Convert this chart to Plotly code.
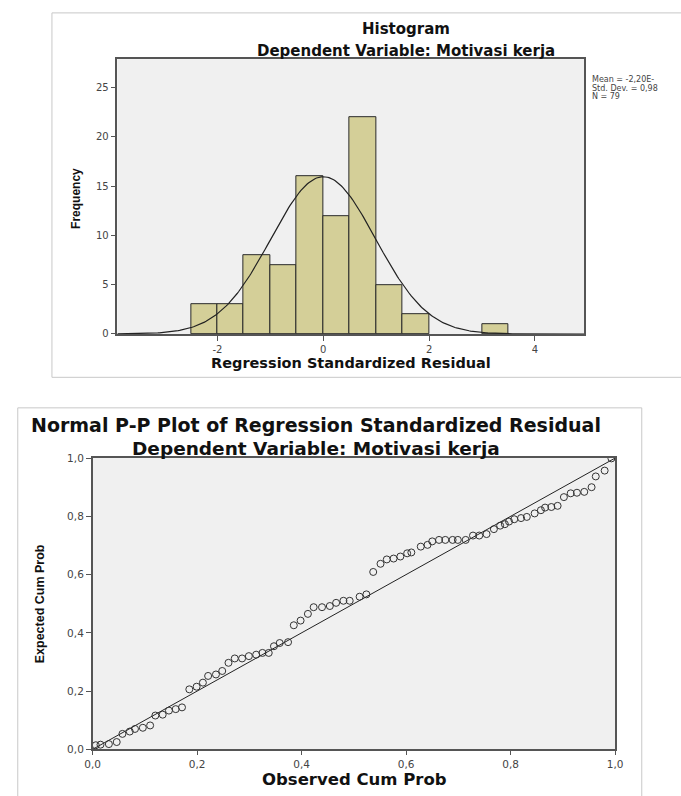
import math
import plotly.graph_objects as go

# ---------------- data ----------------
# Histogram of regression standardized residuals (bin width 0.5)
bin_starts = [-2.5, -2.0, -1.5, -1.0, -0.5, 0.0, 0.5, 1.0, 1.5, 3.0]
bin_counts = [3, 3, 8, 7, 16, 12, 22, 5, 2, 1]
bin_width = 0.5
res_mean = -2.20e-15
res_sd = 0.987
res_n = 79
stats_lines = ["Mean = -2,20E-", "Std. Dev. = 0,98", "N = 79"]
hist_xticks = [-2, 0, 2, 4]
hist_xtick_labels = ["-2", "0", "2", "4"]
hist_yticks = [0, 5, 10, 15, 20, 25]

# Normal P-P plot points (observed, expected cumulative probability)
obs_cum = [0.006, 0.015, 0.031, 0.046, 0.057, 0.071, 0.081, 0.096, 0.110,
           0.120, 0.134, 0.146, 0.159, 0.171, 0.185, 0.199, 0.211, 0.221,
           0.236, 0.248, 0.260, 0.272, 0.286, 0.299, 0.313, 0.325, 0.337,
           0.347, 0.358, 0.374, 0.385, 0.398, 0.412, 0.423, 0.439, 0.454,
           0.466, 0.480, 0.492, 0.511, 0.524, 0.537, 0.551, 0.563, 0.576,
           0.589, 0.602, 0.610, 0.628, 0.641, 0.650, 0.663, 0.675, 0.689,
           0.699, 0.714, 0.728, 0.740, 0.754, 0.768, 0.780, 0.789, 0.797,
           0.807, 0.820, 0.831, 0.846, 0.858, 0.866, 0.878, 0.890, 0.902,
           0.915, 0.927, 0.941, 0.955, 0.963, 0.980, 0.993]
exp_cum = [0.014, 0.016, 0.018, 0.025, 0.053, 0.061, 0.070, 0.074, 0.082,
           0.116, 0.119, 0.133, 0.138, 0.144, 0.206, 0.215, 0.229, 0.252,
           0.257, 0.269, 0.297, 0.312, 0.312, 0.320, 0.325, 0.331, 0.331,
           0.354, 0.365, 0.368, 0.426, 0.442, 0.465, 0.488, 0.488, 0.492,
           0.503, 0.510, 0.510, 0.524, 0.532, 0.609, 0.637, 0.652, 0.655,
           0.662, 0.673, 0.676, 0.696, 0.702, 0.714, 0.719, 0.719, 0.719,
           0.719, 0.719, 0.734, 0.734, 0.739, 0.756, 0.768, 0.773, 0.782,
           0.790, 0.794, 0.798, 0.810, 0.821, 0.830, 0.832, 0.836, 0.866,
           0.879, 0.881, 0.884, 0.900, 0.937, 0.957, 0.999]
pp_ticks = [0.0, 0.2, 0.4, 0.6, 0.8, 1.0]
ref_line = [0.0, 1.0]

# ---------------- layout constants ----------------
W, H = 681, 796
def px(x):
    return x / W
def py(y):
    return 1 - y / H

BAR_FILL = "#d4cf98"
PLOT_BG = "#f0f0f0"
FRAME = "#c8c8c8"
TICKFONT = dict(family="DejaVu Sans", size=10, color="#444")
PP_TICKFONT = dict(family="DejaVu Sans", size=10.5, color="#444")

fig = go.Figure()

# histogram bars
fig.add_trace(go.Bar(
    x=bin_starts, y=bin_counts, width=bin_width, offset=0,
    marker=dict(color=BAR_FILL, line=dict(color="#2a2a2a", width=1)),
    xaxis="x", yaxis="y", showlegend=False, hoverinfo="skip"))

# fitted normal curve from the residual statistics
x0, x1 = -3.89, 4.93
curve_x = [x0 + (x1 - x0) * i / 300 for i in range(301)]
curve_y = [res_n * bin_width / (res_sd * math.sqrt(2 * math.pi))
           * math.exp(-0.5 * ((v - res_mean) / res_sd) ** 2) for v in curve_x]
fig.add_trace(go.Scatter(
    x=curve_x, y=curve_y, mode="lines", line=dict(color="#222", width=1.2),
    xaxis="x", yaxis="y", showlegend=False, hoverinfo="skip"))

# P-P reference line and points
fig.add_trace(go.Scatter(
    x=ref_line, y=ref_line, mode="lines", line=dict(color="#222", width=1),
    xaxis="x2", yaxis="y2", showlegend=False, hoverinfo="skip"))
fig.add_trace(go.Scatter(
    x=obs_cum, y=exp_cum, mode="markers",
    marker=dict(symbol="circle-open", size=7, color="#333",
                line=dict(width=1, color="#333")),
    xaxis="x2", yaxis="y2", showlegend=False, hoverinfo="skip"))

def axis(**kw):
    d = dict(showgrid=False, zeroline=False, showline=True, mirror=True,
             linecolor="#555", linewidth=1.5, ticks="outside",
             tickcolor="#555", tickfont=TICKFONT, fixedrange=True)
    d.update(kw)
    return d

fig.update_layout(
    width=W, height=H,
    margin=dict(l=0, r=0, t=0, b=0),
    paper_bgcolor="white",
    plot_bgcolor=PLOT_BG,
    separators=",.",
    bargap=0,
    showlegend=False,
    xaxis=axis(domain=[px(112), px(590)], range=[x0, x1],
               tickvals=hist_xticks, ticktext=hist_xtick_labels, ticklen=5, anchor="y"),
    yaxis=axis(domain=[py(333), py(54)], range=[0, 27.9],
               tickvals=hist_yticks, ticklen=5, anchor="x"),
    xaxis2=axis(domain=[px(86.7), px(621.7)], range=[0, 1],
                tickvals=pp_ticks, tickformat=".1f", ticklen=4, anchor="y2",
                tickfont=PP_TICKFONT),
    yaxis2=axis(domain=[py(754.7), py(459)], range=[0, 1],
                tickvals=pp_ticks, tickformat=".1f", ticklen=5, anchor="x2",
                tickfont=PP_TICKFONT),
)

# outer frames
fig.add_shape(type="rect", xref="paper", yref="paper",
              x0=px(45), x1=1.02, y0=py(377), y1=py(7),
              line=dict(color=FRAME, width=1), fillcolor="rgba(0,0,0,0)", layer="below")
fig.add_shape(type="rect", xref="paper", yref="paper",
              x0=px(10), x1=px(649), y0=-0.02, y1=py(408),
              line=dict(color=FRAME, width=1), fillcolor="rgba(0,0,0,0)", layer="below")

def label(text, x, y, size, family="DejaVu Sans", angle=0, xanchor="center", color="#111", bold=True):
    fig.add_annotation(text=("<b>%s</b>" % text) if bold else text,
                       x=x, y=y, xref="paper", yref="paper",
                       xanchor=xanchor, yanchor="middle", showarrow=False,
                       textangle=angle, borderpad=0,
                       font=dict(family=family, size=size, color=color))

# histogram texts
label("Histogram", px(408), py(23), 15)
label("Dependent Variable: Motivasi kerja", px(408), py(45.7), 15)
label("Regression Standardized Residual", px(351), py(362), 14.5)
label("Frequency", px(69.5), py(195), 12, family="Liberation Sans", angle=-90)
for i, t in enumerate(stats_lines):
    label(t, px(597), py(75 + 8.6 * i), 8, xanchor="left", color="#444", bold=False)

# P-P texts
label("Normal P-P Plot of Regression Standardized Residual", px(315), py(425), 19)
label("Dependent Variable: Motivasi kerja", px(315), py(449), 18.5)
label("Observed Cum Prob", px(355), py(785), 16.5)
label("Expected Cum Prob", px(32.5), py(606.7), 12.5, family="Liberation Sans", angle=-90)

fig.write_html("out.html", config={"displayModeBar": False},
               post_script="document.body.style.margin='0';document.body.style.overflow='hidden';")
